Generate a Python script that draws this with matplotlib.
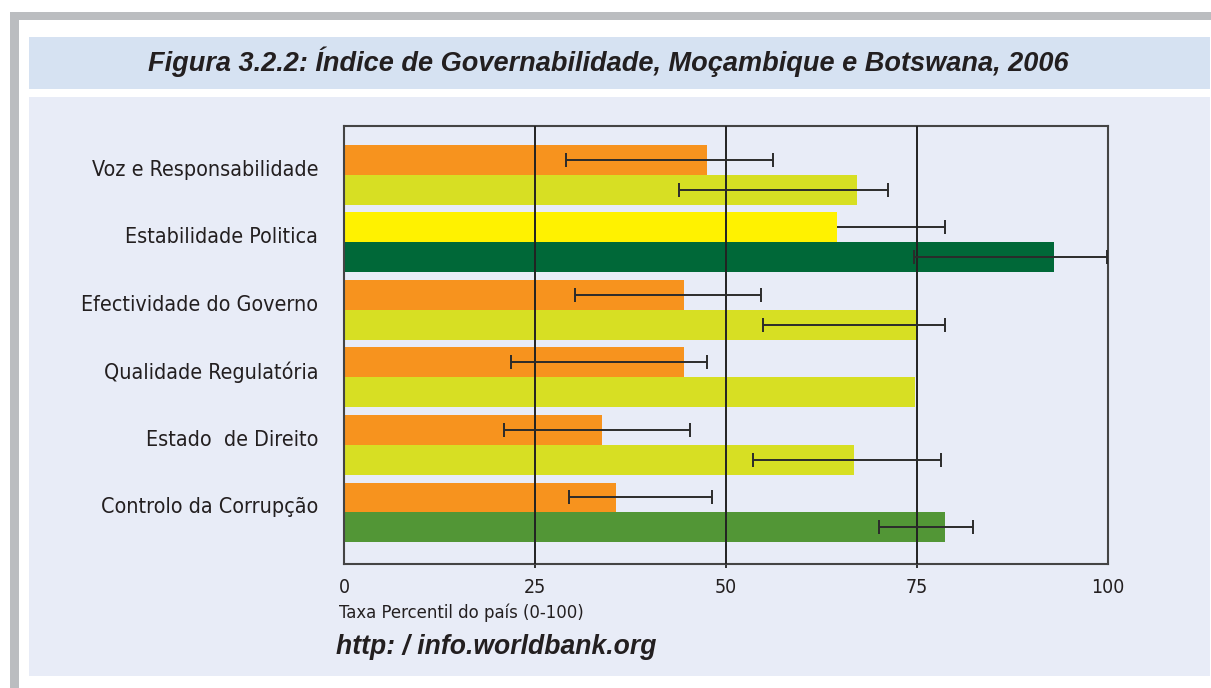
import matplotlib.pyplot as plt
import numpy as np
from matplotlib.patches import Rectangle
from matplotlib.transforms import blended_transform_factory
from matplotlib import font_manager

W, H = 1211, 688

categories = [
    "Voz e Responsabilidade",
    "Estabilidade Politica",
    "Efectividade do Governo",
    "Qualidade Regulatória",
    "Estado  de Direito",
    "Controlo da Corrupção",
]

# Moçambique (upper bar of each pair)
moz = [47.5, 64.5, 44.5, 44.5, 33.8, 35.6]
moz_lo = [29.0, 55.0, 30.2, 21.9, 21.0, 29.4]
moz_hi = [56.2, 78.6, 54.6, 47.5, 45.3, 48.2]

# Botswana (lower bar of each pair)
bots = [67.1, 92.9, 75.1, 74.7, 66.8, 78.7]
bots_lo = [43.9, 74.6, 54.8, np.nan, 53.5, 70.0]
bots_hi = [71.2, 99.9, 78.7, np.nan, 78.2, 82.3]

ORANGE = "#F7931E"
YELLOW = "#FFF200"
YGREEN = "#D7DF23"
DGREEN = "#006838"
GREEN = "#529636"
moz_colors = [ORANGE, YELLOW, ORANGE, ORANGE, ORANGE, ORANGE]
bots_colors = [YGREEN, DGREEN, YGREEN, YGREEN, YGREEN, GREEN]

xticks = [0, 25, 50, 75, 100]

names = {f.name for f in font_manager.fontManager.ttflist}
condensed = [f for f in font_manager.fontManager.ttflist
             if f.name == "DejaVu Sans" and "ondensed" in f.fname]
if "Liberation Sans Narrow" in names:
    NARROW = dict(family=["Liberation Sans Narrow", "DejaVu Sans"])
    NSCALE = 1.0
elif condensed:
    NARROW = dict(family=["DejaVu Sans"], fontstretch="condensed")
    NSCALE = 0.88
else:
    NARROW = dict(family=["Liberation Sans", "DejaVu Sans"])
    NSCALE = 0.82
BOLD = ["Liberation Sans", "DejaVu Sans"]


def px_rect(x0, y0, x1, y1, color):
    # rectangle given in image pixels (top-left origin)
    return Rectangle((x0 / W, 1 - y1 / H), (x1 - x0) / W, (y1 - y0) / H,
                     transform=fig.transFigure, facecolor=color,
                     edgecolor="none", zorder=-5)


fig = plt.figure(figsize=(W / 100, H / 100), dpi=100)
fig.patch.set_facecolor("white")

# frame and panels
fig.patches.append(px_rect(10, 12, W, 20, "#BBBDC0"))
fig.patches.append(px_rect(10, 12, 19, H, "#BBBDC0"))
fig.patches.append(px_rect(29, 37, 1210, 89, "#D6E2F2"))
fig.patches.append(px_rect(29, 97, 1210, 676, "#E8ECF7"))

ax = fig.add_axes([344 / W, 1 - 564 / H, (1108 - 344) / W, (564 - 126.3) / H])
ax.set_zorder(2)
ax.set_facecolor("#E8ECF7")

n = len(categories)
y = np.arange(n)
h = 0.444

ax.barh(y - h / 2, moz, height=h, color=moz_colors, zorder=2)
ax.barh(y + h / 2, bots, height=h, color=bots_colors, zorder=2)

err_kw = dict(fmt="none", ecolor="#2b2b2b", elinewidth=1.4,
              capsize=4.7, capthick=1.4)
for i in range(n):
    # stability error bar of Moçambique sits partly behind its bar
    z = 1 if moz_colors[i] == YELLOW else 4
    ax.errorbar(moz[i], y[i] - h / 2,
                xerr=[[moz[i] - moz_lo[i]], [moz_hi[i] - moz[i]]],
                zorder=z, **err_kw)
    if not np.isnan(bots_lo[i]):
        ax.errorbar(bots[i], y[i] + h / 2,
                    xerr=[[bots[i] - bots_lo[i]], [bots_hi[i] - bots[i]]],
                    zorder=4, **err_kw)

for v in xticks[1:-1]:
    ax.axvline(v, color="#222222", lw=1.4, zorder=3)

ax.set_xlim(0, 100)
ax.set_ylim(n - 1 + 0.763, -0.72)
ax.set_yticks([])
ax.set_xticks(xticks)
ax.set_xticklabels([str(v) for v in xticks], fontsize=16 * NSCALE,
                   color="#231F20", **NARROW)
ax.tick_params(axis="x", length=3, width=1.3, color="#222222", pad=7)
ticks = ax.xaxis.get_major_ticks()
ticks[0].tick1line.set_visible(False)
ticks[-1].tick1line.set_visible(False)
for s in ax.spines.values():
    s.set_color("#444444")
    s.set_linewidth(1.5)

trans = blended_transform_factory(ax.transAxes, ax.transData)
for i, name in enumerate(categories):
    ax.text(-0.034, y[i] - 0.074, name, transform=trans, ha="right",
            va="center", fontsize=17.5 * NSCALE, color="#231F20", **NARROW)

fig.text(608 / W, 1 - 62 / H,
         "Figura 3.2.2: Índice de Governabilidade, Moçambique e Botswana, 2006",
         ha="center", va="center", family=BOLD, fontsize=19.5,
         fontweight="bold", fontstyle="italic", color="#231F20")
fig.text(339 / W, 1 - 613 / H, "Taxa Percentil do país (0-100)",
         ha="left", va="center", fontsize=15 * NSCALE, color="#231F20",
         **NARROW)
fig.text(336 / W, 1 - 647 / H, "http: / info.worldbank.org",
         ha="left", va="center", family=BOLD, fontsize=19.1,
         fontweight="bold", fontstyle="italic", color="#231F20")

fig.savefig("out.png", dpi=100, facecolor=fig.get_facecolor())
